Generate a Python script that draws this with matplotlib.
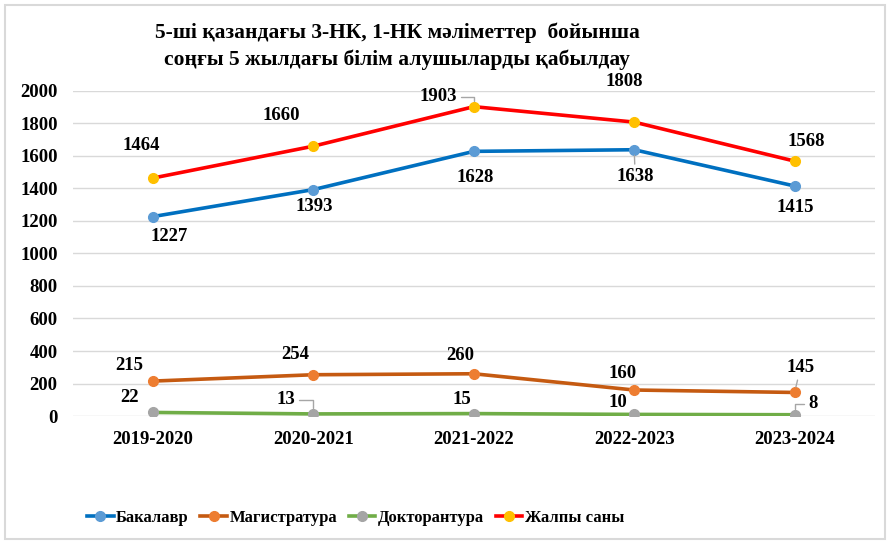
import matplotlib.pyplot as plt
from matplotlib.patches import Rectangle

years = ['2019-2020', '2020-2021', '2021-2022', '2022-2023', '2023-2024']
bachelor = [1227, 1393, 1628, 1638, 1415]
master = [215, 254, 260, 160, 145]
doctor = [22, 13, 15, 10, 8]
total = [1464, 1660, 1903, 1808, 1568]

names = ['Бакалавр', 'Магистратура', 'Докторантура', 'Жалпы саны']
line_colors = ['#0070C0', '#C55A11', '#70AD47', '#FF0000']
marker_colors = ['#5B9BD5', '#ED7D31', '#A5A5A5', '#FFC000']

plt.rcParams['font.family'] = ['Liberation Serif', 'DejaVu Serif']
plt.rcParams['font.weight'] = 'bold'

fig = plt.figure(figsize=(8.89, 5.41), dpi=100)
ax = fig.add_axes([0.082, 0.231, 0.902, 0.601])

x = list(range(len(years)))
series = [bachelor, master, doctor, total]
for vals, name, lc, mc in zip(series, names, line_colors, marker_colors):
    ax.plot(x, vals, color=lc, lw=2.6, marker='o', ms=7,
            markerfacecolor=mc, markeredgecolor=mc, label=name, zorder=3)

# label offsets in pixels (dx, dy up), converted to points below
offs = [
    [(16, -20), (1, -17), (1, -26), (1, -27), (1, -22)],
    [(-24, 16), (-18, 20), (-14, 18), (-12, 17), (6, 25)],
    [(-24, 15), (-28, 14), (-12, 14), (-16, 12), (18, 11)],
    [(-12, 33), (-32, 31), (-36, 10), (-10, 41), (12, 20)],
]
elbow = {(3, 2), (2, 1), (2, 4)}
straight = {(0, 3), (1, 4)}
for si, vals in enumerate(series):
    for i, v in enumerate(vals):
        dx, dy = offs[si][i]
        arrow = None
        if (si, i) in elbow:
            arrow = dict(arrowstyle='-', color='#A6A6A6', lw=1,
                         connectionstyle='angle,angleA=0,angleB=90,rad=0',
                         shrinkA=1, shrinkB=4)
        elif (si, i) in straight:
            arrow = dict(arrowstyle='-', color='#A6A6A6', lw=1,
                         shrinkA=1, shrinkB=4)
        ax.annotate(str(v), (i, v), xytext=(dx * 0.72, dy * 0.72),
                    textcoords='offset points', ha='center', va='center',
                    fontsize=13.5, fontweight='bold', zorder=4,
                    arrowprops=arrow)

ax.set_xlim(-0.5, 4.5)
ax.set_ylim(0, 2000)
ax.set_yticks(range(0, 2001, 200))
ax.set_xticks(x)
ax.set_xticklabels(years)
ax.tick_params(axis='both', length=0, labelsize=13.5)
ax.tick_params(axis='y', pad=11)
ax.tick_params(axis='x', pad=11)
ax.yaxis.grid(True, color='#D9D9D9', lw=1)
ax.set_axisbelow(True)
for s in ax.spines.values():
    s.set_visible(False)

fig.text(0.447, 0.939, '5-ші қазандағы 3-НК, 1-НК мәліметтер  бойынша',
         ha='center', va='center', fontsize=15.5, fontweight='bold')
fig.text(0.447, 0.889, 'соңғы 5 жылдағы білім алушыларды қабылдау',
         ha='center', va='center', fontsize=15.5, fontweight='bold')

fig.legend(loc='center', bbox_to_anchor=(0.40, 0.0425), ncol=4, frameon=False,
           fontsize=12, handlelength=1.6, columnspacing=0.7, handletextpad=0.15)

fig.patches.append(Rectangle((0.006, 0.004), 0.99, 0.986, transform=fig.transFigure,
                             fill=False, edgecolor='#D9D9D9', lw=1.5))

fig.savefig('out.png', dpi=100)
